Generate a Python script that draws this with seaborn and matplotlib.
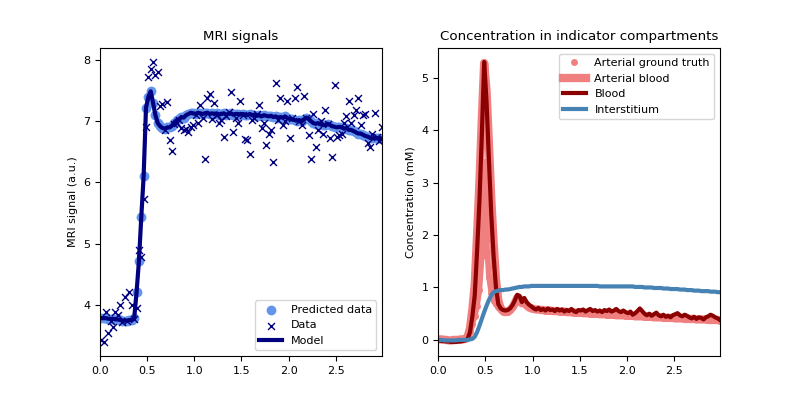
import numpy as np
import matplotlib
matplotlib.use("Agg")
import matplotlib.pyplot as plt
import seaborn as sns

plt.rcParams["font.size"] = 8


# ================= DATA =================
# sampling times (s), evenly spaced
time = np.linspace(0.0125, 2.9875, 120)

# measured MRI signal (a.u.)
data_signal = [
    3.42, 3.39, 3.88, 3.53, 3.74, 3.64, 3.88, 3.83, 3.99, 3.72,
    4.13, 3.74, 4.21, 3.99, 3.76, 3.94, 4.90, 4.78, 5.73, 6.90,
    7.72, 7.85, 7.97, 7.76, 7.80, 7.25, 7.29, 6.86, 7.31, 6.69,
    6.51, 6.95, 6.98, 7.02, 6.89, 6.86, 6.87, 6.83, 6.91, 6.94,
    7.10, 6.97, 7.27, 7.05, 6.38, 7.38, 7.44, 7.04, 7.30, 7.10,
    6.98, 7.02, 6.75, 7.08, 7.15, 7.48, 6.83, 7.05, 6.97, 7.33,
    7.10, 6.71, 6.69, 6.46, 7.02, 7.05, 7.12, 7.26, 6.89, 6.98,
    6.61, 6.80, 6.86, 6.34, 7.63, 7.02, 7.38, 6.94, 7.00, 7.34,
    6.72, 7.05, 7.38, 7.56, 7.00, 6.94, 7.41, 7.05, 6.78, 6.39,
    7.12, 6.58, 6.86, 7.00, 6.80, 7.19, 6.95, 6.72, 6.41, 7.59,
    6.75, 6.78, 6.79, 6.97, 7.08, 7.33, 6.97, 7.11, 7.19, 7.38,
    6.94, 7.11, 7.12, 6.64, 6.58, 6.80, 7.13, 6.75, 6.67, 6.90,
]

# model fit (also used as predicted data)
model_signal = [
    3.78, 3.78, 3.78, 3.77, 3.77, 3.77, 3.76, 3.76, 3.75, 3.74,
    3.74, 3.74, 3.75, 3.75, 3.78, 4.20, 4.71, 5.43, 6.10, 7.22,
    7.40, 7.49, 7.30, 7.10, 6.97, 6.92, 6.89, 6.88, 6.90, 6.90,
    6.93, 6.98, 7.02, 7.03, 7.07, 7.06, 7.10, 7.12, 7.14, 7.13,
    7.12, 7.14, 7.13, 7.12, 7.13, 7.14, 7.12, 7.13, 7.12, 7.13,
    7.11, 7.12, 7.13, 7.11, 7.12, 7.13, 7.11, 7.12, 7.12, 7.11,
    7.12, 7.11, 7.10, 7.12, 7.10, 7.11, 7.09, 7.10, 7.08, 7.10,
    7.09, 7.08, 7.09, 7.07, 7.08, 7.06, 7.07, 7.06, 7.08, 7.05,
    7.04, 7.03, 7.02, 7.01, 7.02, 7.00, 7.03, 7.06, 7.04, 7.00,
    6.97, 6.96, 6.97, 6.95, 6.94, 6.94, 6.96, 6.94, 6.92, 6.91,
    6.90, 6.91, 6.90, 6.88, 6.89, 6.86, 6.86, 6.84, 6.82, 6.80,
    6.80, 6.78, 6.76, 6.75, 6.73, 6.72, 6.73, 6.72, 6.73, 6.71,
]

# concentrations (mM)
arterial_truth = [
    0.01, 0.01, 0.00, 0.00, -0.01, -0.01, 0.00, 0.00, 0.00, 0.01,
    0.01, 0.02, 0.05, 0.15, 0.30, 0.45, 0.65, 0.95, 1.60, 3.40,
    1.90, 1.20, 0.90, 0.75, 0.68, 0.62, 0.57, 0.54, 0.53, 0.54,
    0.57, 0.62, 0.70, 0.80, 0.78, 0.70, 0.72, 0.66, 0.62, 0.60,
    0.59, 0.58, 0.58, 0.57, 0.57, 0.56, 0.56, 0.56, 0.55, 0.55,
    0.55, 0.54, 0.54, 0.54, 0.53, 0.53, 0.53, 0.52, 0.52, 0.52,
    0.52, 0.51, 0.51, 0.51, 0.50, 0.50, 0.50, 0.50, 0.49, 0.49,
    0.49, 0.48, 0.48, 0.48, 0.48, 0.47, 0.47, 0.47, 0.47, 0.46,
    0.46, 0.46, 0.46, 0.45, 0.45, 0.45, 0.45, 0.44, 0.44, 0.44,
    0.44, 0.43, 0.43, 0.43, 0.43, 0.42, 0.42, 0.42, 0.42, 0.42,
    0.41, 0.41, 0.41, 0.41, 0.40, 0.40, 0.40, 0.40, 0.40, 0.39,
    0.39, 0.39, 0.39, 0.39, 0.38, 0.38, 0.38, 0.38, 0.38, 0.37,
]

arterial_blood = [
    0.01, 0.01, 0.00, 0.00, -0.01, -0.01, 0.00, 0.00, 0.00, 0.01,
    0.01, 0.02, 0.06, 0.22, 0.58, 1.05, 2.00, 3.00, 4.20, 5.28,
    4.75, 3.75, 2.70, 1.85, 1.15, 0.75, 0.60, 0.55, 0.53, 0.54,
    0.57, 0.62, 0.70, 0.80, 0.78, 0.70, 0.72, 0.66, 0.62, 0.60,
    0.59, 0.58, 0.58, 0.57, 0.57, 0.56, 0.56, 0.56, 0.55, 0.55,
    0.55, 0.54, 0.54, 0.54, 0.53, 0.53, 0.53, 0.52, 0.52, 0.52,
    0.52, 0.51, 0.51, 0.51, 0.50, 0.50, 0.50, 0.50, 0.49, 0.49,
    0.49, 0.48, 0.48, 0.48, 0.48, 0.47, 0.47, 0.47, 0.47, 0.46,
    0.46, 0.46, 0.46, 0.45, 0.45, 0.45, 0.45, 0.44, 0.44, 0.44,
    0.44, 0.43, 0.43, 0.43, 0.43, 0.42, 0.42, 0.42, 0.42, 0.42,
    0.41, 0.41, 0.41, 0.41, 0.40, 0.40, 0.40, 0.40, 0.40, 0.39,
    0.39, 0.39, 0.39, 0.39, 0.38, 0.38, 0.38, 0.38, 0.38, 0.37,
]

blood = [
    -0.01, -0.02, -0.02, -0.03, -0.03, -0.04, -0.04, -0.04, -0.03, -0.03,
    -0.02, -0.01, 0.02, 0.15, 0.45, 0.85, 1.70, 2.65, 3.90, 5.30,
    4.55, 3.45, 2.40, 1.60, 1.00, 0.68, 0.60, 0.57, 0.56, 0.57,
    0.60, 0.66, 0.75, 0.86, 0.84, 0.72, 0.80, 0.72, 0.67, 0.64,
    0.60, 0.58, 0.61, 0.57, 0.59, 0.56, 0.60, 0.57, 0.58, 0.55,
    0.59, 0.56, 0.58, 0.54, 0.57, 0.55, 0.59, 0.55, 0.53, 0.57,
    0.56, 0.58, 0.54, 0.57, 0.59, 0.55, 0.57, 0.54, 0.56, 0.53,
    0.57, 0.55, 0.58, 0.54, 0.56, 0.59, 0.55, 0.53, 0.56, 0.53,
    0.51, 0.54, 0.48, 0.51, 0.55, 0.60, 0.55, 0.50, 0.47, 0.50,
    0.46, 0.49, 0.52, 0.47, 0.45, 0.48, 0.44, 0.46, 0.43, 0.47,
    0.49, 0.51, 0.47, 0.45, 0.48, 0.46, 0.43, 0.41, 0.44, 0.40,
    0.43, 0.42, 0.39, 0.43, 0.45, 0.48, 0.46, 0.43, 0.41, 0.38,
]

interstitium = [
    0.00, 0.00, -0.01, -0.01, -0.01, -0.01, -0.01, -0.01, 0.00, 0.00,
    0.00, 0.00, 0.00, 0.01, 0.02, 0.06, 0.15, 0.27, 0.40, 0.53,
    0.65, 0.76, 0.85, 0.91, 0.93, 0.94, 0.95, 0.95, 0.96, 0.96,
    0.97, 0.98, 0.99, 1.00, 1.01, 1.01, 1.02, 1.02, 1.02, 1.03,
    1.03, 1.03, 1.03, 1.03, 1.03, 1.03, 1.03, 1.03, 1.03, 1.03,
    1.03, 1.03, 1.03, 1.03, 1.03, 1.03, 1.03, 1.03, 1.03, 1.03,
    1.03, 1.03, 1.03, 1.03, 1.03, 1.03, 1.03, 1.03, 1.02, 1.02,
    1.02, 1.02, 1.02, 1.02, 1.02, 1.02, 1.02, 1.02, 1.02, 1.02,
    1.02, 1.02, 1.02, 1.01, 1.01, 1.01, 1.01, 1.00, 1.00, 1.00,
    1.00, 0.99, 0.99, 0.99, 0.99, 0.98, 0.98, 0.98, 0.97, 0.97,
    0.97, 0.97, 0.96, 0.96, 0.96, 0.95, 0.95, 0.95, 0.94, 0.94,
    0.94, 0.93, 0.93, 0.93, 0.93, 0.92, 0.92, 0.92, 0.91, 0.91,
]


# ================= PLOT =================
fig, (ax0, ax1) = plt.subplots(1, 2, figsize=(8, 4))

# MRI signals
ax0.set_title("MRI signals")
sns.scatterplot(x=time, y=model_signal, marker="o", s=50, color="cornflowerblue",
                linewidth=0, label="Predicted data", ax=ax0)
sns.scatterplot(x=time, y=data_signal, marker="x", s=25, color="navy",
                linewidth=1, label="Data", ax=ax0)
sns.lineplot(x=time, y=model_signal, color="navy", linewidth=3,
             label="Model", ax=ax0)
ax0.set_xlim(0, time[-1])
ax0.set_ylabel("MRI signal (a.u.)")
ax0.legend(loc="lower right")

# Concentrations
ax1.set_title("Concentration in indicator compartments")
# dense ground-truth dots look like a thick band -> draw as dotted thick line
sns.lineplot(x=time, y=arterial_truth, color="lightcoral", linewidth=4,
             marker="o", markersize=5, markeredgewidth=0,
             label="Arterial ground truth", ax=ax1)
sns.lineplot(x=time, y=arterial_blood, color="lightcoral", linewidth=6,
             label="Arterial blood", ax=ax1)
sns.lineplot(x=time, y=blood, color="darkred", linewidth=3,
             label="Blood", ax=ax1)
sns.lineplot(x=time, y=interstitium, color="steelblue", linewidth=3,
             label="Interstitium", ax=ax1)
ax1.set_xlim(0, time[-1])
ax1.set_ylabel("Concentration (mM)")
leg = ax1.legend(loc="upper right")
leg.legend_handles[0].set_linestyle("None")

plt.savefig("out.png", dpi=100)
